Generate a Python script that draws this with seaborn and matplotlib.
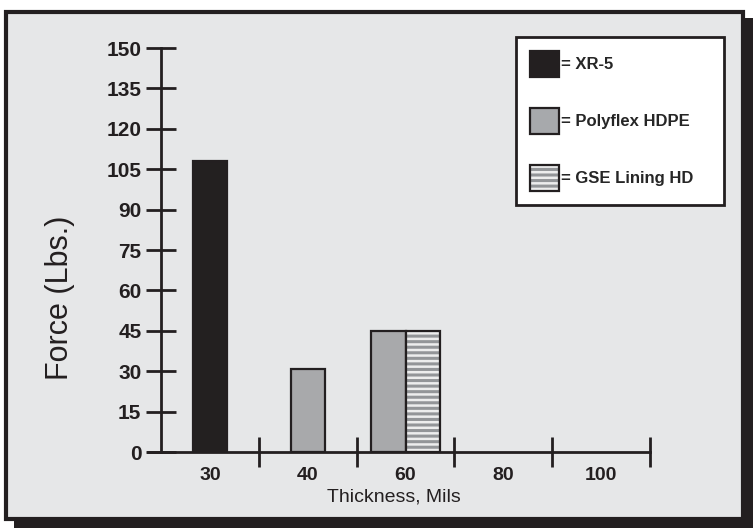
import matplotlib
matplotlib.use("Agg")
import matplotlib.pyplot as plt
import seaborn as sns
import pandas as pd
from matplotlib.patches import Rectangle, Patch

# ---- data ----
thickness = ["30", "40", "60", "80", "100"]
series = ["XR-5", "Polyflex HDPE", "GSE Lining HD"]
xr5_values = {"30": 108}
polyflex_values = {"40": 31, "60": 45}
gse_values = {"60": 45}
y_ticks = [0, 15, 30, 45, 60, 75, 90, 105, 120, 135, 150]

rows = []
for name, vals in zip(series, [xr5_values, polyflex_values, gse_values]):
    for k, v in vals.items():
        rows.append({"Thickness": k, "Series": name, "Force": v})
df = pd.DataFrame(rows)

colors = {"XR-5": "#231f20", "Polyflex HDPE": "#a7a9ac", "GSE Lining HD": "#ededed"}
dark = "#231f20"
panel = "#e6e7e8"
hatch_grey = "#939598"

sns.set_theme(style="white")
plt.rcParams["hatch.linewidth"] = 2.2
reg = ["Liberation Sans", "DejaVu Sans"]

fig = plt.figure(figsize=(7.54, 5.32), dpi=100)
fig.patch.set_facecolor("white")

# background frame with drop shadow
W, H = 754, 532
fig.patches.append(Rectangle((14 / W, 4 / H), 739 / W, 510 / H, transform=fig.transFigure,
                             facecolor=dark, edgecolor="none", zorder=0))
fig.patches.append(Rectangle((6 / W, 13 / H), 737 / W, 507 / H, transform=fig.transFigure,
                             facecolor=panel, edgecolor=dark, linewidth=3, zorder=0.5))

ax_left, ax_bottom, ax_w, ax_h = 161, 80, 489, 404
ax = fig.add_axes([ax_left / W, ax_bottom / H, ax_w / W, ax_h / H])
ax.set_zorder(2)
ax.set_facecolor("none")

counts = df.groupby("Thickness")["Series"].transform("count")
single = df[counts == 1]
double = df[counts > 1]

sns.barplot(data=single, x="Thickness", y="Force", hue="Series", order=thickness,
            hue_order=series, palette=colors, dodge=False, width=0.35,
            edgecolor=dark, linewidth=1.6, legend=False, ax=ax)
sns.barplot(data=double, x="Thickness", y="Force", hue="Series", order=thickness,
            hue_order=[s for s in series if s in set(double["Series"])],
            palette=colors, dodge=True, width=0.70,
            edgecolor=dark, linewidth=1.6, legend=False, ax=ax)

# hatch the GSE bars
gse_color = colors["GSE Lining HD"]
for p in list(ax.patches):
    fc = p.get_facecolor()
    if matplotlib.colors.to_hex(fc) == gse_color:
        p.set_hatch("---")
        p.set_edgecolor(hatch_grey)
        p.set_linewidth(0)
        ax.add_patch(Rectangle((p.get_x(), p.get_y()), p.get_width(), p.get_height(),
                               facecolor="none", edgecolor=dark, linewidth=1.6, zorder=3))

ax.set_xlim(-0.5, len(thickness) - 0.5)
ax.set_ylim(0, 150)
ax.set_yticks(y_ticks)
ax.set_yticklabels([str(t) for t in y_ticks])

for s in ["top", "right"]:
    ax.spines[s].set_visible(False)
for s in ["left", "bottom"]:
    ax.spines[s].set_color(dark)
    ax.spines[s].set_linewidth(2.0)
ax.spines["bottom"].set_bounds(-0.5 - 13 / 97.8, len(thickness) - 0.5)

ax.tick_params(axis="y", direction="inout", length=21, width=2.0, color=dark, pad=3.6,
               labelsize=15, labelcolor=dark, left=True)
ax.tick_params(axis="x", which="major", length=0, pad=11, labelsize=14, labelcolor=dark,
               bottom=True)
ax.set_xticks([i + 0.5 for i in range(len(thickness))], minor=True)
ax.tick_params(axis="x", which="minor", direction="inout", length=21, width=2.0, color=dark,
               bottom=True)
for lab in ax.get_xticklabels() + ax.get_yticklabels():
    lab.set_family(reg)
    lab.set_fontweight("bold")

ax.set_xlabel("Thickness, Mils", family=reg, fontsize=14, color=dark)
ax.xaxis.set_label_coords((394 - ax_left) / ax_w, (452 - 497) / ax_h)
ax.xaxis.label.set_va("center")
ax.set_ylabel("Force (Lbs.)", family=reg, fontsize=22, color=dark)
ax.yaxis.set_label_coords((60 - ax_left) / ax_w, (452 - 298) / ax_h)
ax.yaxis.label.set_va("center")

handles = [
    Patch(facecolor=colors["XR-5"], edgecolor=dark, linewidth=1.6),
    Patch(facecolor=colors["Polyflex HDPE"], edgecolor=dark, linewidth=1.6),
    (Patch(facecolor=colors["GSE Lining HD"], edgecolor=hatch_grey, linewidth=0, hatch="---"),
     Patch(facecolor="none", edgecolor=dark, linewidth=1.6)),
]
lx0 = (516 - ax_left) / ax_w
ly1 = (H - 37 - ax_bottom) / ax_h
lw = (724 - 516) / ax_w
lh = (209 - 37) / ax_h
leg = ax.legend(handles, ["= " + s for s in series], loc="upper left",
                bbox_to_anchor=(lx0, ly1 - lh, lw, lh), mode="expand",
                prop={"family": reg, "weight": "bold", "size": 12},
                handlelength=1.7, handleheight=2.0, handletextpad=0.15,
                labelspacing=1.87, borderpad=0.85, borderaxespad=0, frameon=True,
                fancybox=False)
leg.get_frame().set_edgecolor(dark)
leg.get_frame().set_linewidth(2.0)
leg.get_frame().set_facecolor("white")
leg.get_frame().set_alpha(1)

fig.savefig("out.png", dpi=100)
